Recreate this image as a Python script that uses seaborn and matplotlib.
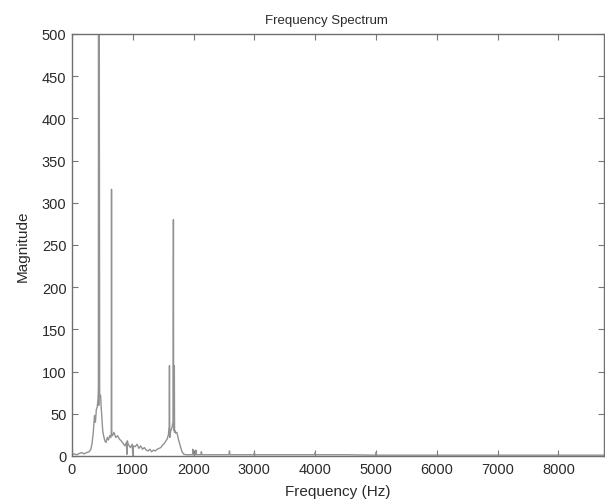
import numpy as np
import pandas as pd
import matplotlib
matplotlib.use("Agg")
import matplotlib.pyplot as plt
import seaborn as sns

# Spectre (Hz, magnitude)
freq_hz = [0, 40, 80, 120, 160, 200, 240, 280, 310, 330, 350, 370, 385, 400,
           415, 428, 434, 437, 440, 443, 455, 470, 480, 492, 505, 520, 540,
           560, 580, 600, 620, 638, 646, 650, 654, 665, 690, 720, 750, 780,
           810, 840, 870, 895, 903, 910, 930, 960, 990, 1000, 1010, 1040,
           1070, 1100, 1130, 1160, 1190, 1220, 1250, 1280, 1310, 1340, 1370,
           1400, 1430, 1460, 1490, 1520, 1545, 1565, 1585, 1598, 1603, 1608,
           1625, 1645, 1662, 1668, 1672, 1678, 1683, 1687, 1691, 1705, 1725,
           1750, 1780, 1810, 1840, 1880, 1940, 1982, 1988, 1994, 2030, 2040,
           2050, 2120, 2128, 2136, 2300, 2582, 2590, 2598, 2990, 3000, 3010,
           3500, 3992, 4000, 4008, 4500, 4994, 5000, 5006, 6000, 7000, 8000,
           8750]
magnitude = [1.5, 2.5, 1.5, 3, 4, 2.5, 4, 5, 8, 15, 28, 48, 40, 55,
             58, 68, 80, 900, 60, 900, 70, 72, 58, 45, 30, 24, 18,
             16, 22, 19, 24, 22, 28, 316, 26, 24, 28, 22, 24, 20,
             18, 15, 12, 16, 2, 18, 13, 10, 14, 1, 12, 11,
             14, 9, 12, 8, 10, 7, 6, 8, 5, 7, 6,
             8, 9, 10, 13, 15, 18, 20, 25, 35, 107, 22,
             30, 34, 40, 280, 32, 30, 107, 28, 30, 27, 28,
             20, 12, 5, 2, 1.5, 1.5, 1.5, 8, 1.5, 1.5, 7,
             1.5, 1.5, 5, 1.5, 1.5, 1.5, 6, 1.5, 1.5, 4, 1.5,
             1.5, 1.5, 4, 1.5, 1.5, 1, 4, 1, 1, 1, 1,
             1]

x_ticks = list(range(0, 9000, 1000))
y_ticks = list(range(0, 550, 50))

sns.set_theme(style="white")
plt.rcParams["font.family"] = ["Liberation Sans", "DejaVu Sans"]

df = pd.DataFrame({"freq": freq_hz, "mag": magnitude})

fig = plt.figure(figsize=(6.05, 5.02), dpi=100)
ax = fig.add_axes([72 / 605, 45 / 502, 532 / 605, 422 / 502])

sns.lineplot(data=df, x="freq", y="mag", ax=ax, color="#929292",
             linewidth=1.0, estimator=None, sort=False)

ax.set_xlim(0, 8750)
ax.set_ylim(0, 500)
ax.set_xticks(x_ticks)
ax.set_yticks(y_ticks)
ax.tick_params(direction="in", length=4, width=0.8, colors="#777777",
               labelcolor="#2a2a2a", labelsize=10.5, pad=4,
               top=True, right=True, bottom=True, left=True)
for s in ax.spines.values():
    s.set_visible(True)
    s.set_color("#6f6f6f")
    s.set_linewidth(1.0)

ax.set_xlabel("Frequency (Hz)", fontsize=11, color="#2a2a2a", labelpad=6)
ax.set_ylabel("Magnitude", fontsize=11, color="#2a2a2a", labelpad=9)
ax.set_title("Frequency Spectrum", fontsize=9.5, color="#2a2a2a",
             x=0.478, pad=8)

fig.savefig("out.png", dpi=100)
